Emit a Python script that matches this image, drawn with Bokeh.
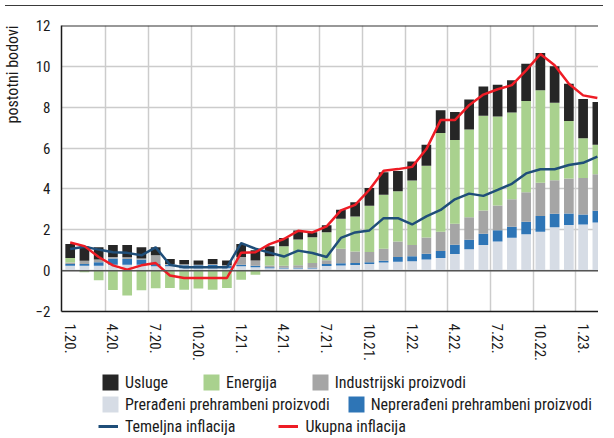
import numpy as np
from bokeh.plotting import figure
from bokeh.models import (ColumnDataSource, FixedTicker, Span, Legend, LegendItem,
                          Title, Div)
from bokeh.layouts import column
from bokeh.embed import file_html
from bokeh.resources import INLINE

# ---------------- data (Jan 2020 .. Feb 2023) ----------------
tick_labels = ["1.20.", "4.20.", "7.20.", "10.20.", "1.21.", "4.21.", "7.21.",
               "10.21.", "1.22.", "4.22.", "7.22.", "10.22.", "1.23."]

preradeni = [0.24, 0.24, 0.24, 0.29, 0.29, 0.29, 0.21, 0.21, 0.12, 0.12, 0.12, 0.12,
             0.21, 0.16, 0.12, 0.10, 0.10, 0.10, 0.23, 0.25, 0.28, 0.32, 0.40, 0.44,
             0.46, 0.54, 0.62, 0.81, 1.05, 1.25, 1.43, 1.61, 1.78, 1.90, 2.12, 2.23,
             2.26, 2.36]
nepreradeni = [0.09, 0.09, 0.17, 0.30, 0.28, 0.25, 0.12, 0.08, 0.15, 0.14, 0.16, 0.12,
               0.08, 0.08, 0.05, 0.04, 0.04, 0.04, 0.09, 0.11, 0.09, 0.09, 0.09, 0.23,
               0.24, 0.29, 0.34, 0.46, 0.46, 0.55, 0.55, 0.54, 0.61, 0.77, 0.66, 0.57,
               0.49, 0.57]
industrijski = [0.07, 0.16, 0.13, 0.08, 0.08, 0.05, 0.42, 0.04, 0.04, 0.03, 0.05, 0.02,
                0.38, 0.26, 0.08, 0.10, 0.12, 0.23, 0.19, 0.71, 0.57, 0.50, 0.58, 0.76,
                0.55, 0.79, 0.94, 1.03, 1.10, 1.15, 1.21, 1.35, 1.45, 1.63, 1.65, 1.71,
                1.78, 1.79]
energija = [0.22, -0.08, -0.47, -0.95, -1.22, -0.96, -0.86, -0.85, -0.93, -0.88, -0.93,
            -0.85, -0.44, -0.20, 0.45, 0.95, 1.27, 1.26, 1.37, 1.47, 1.71, 2.27, 2.64,
            2.46, 3.16, 3.51, 4.84, 4.10, 4.30, 4.63, 4.36, 4.24, 4.47, 4.53, 3.79,
            2.82, 1.95, 1.44]
usluge = [0.68, 0.69, 0.60, 0.58, 0.60, 0.55, 0.39, 0.24, 0.21, 0.21, 0.24, 0.24,
          0.63, 0.50, 0.50, 0.41, 0.44, 0.25, 0.34, 0.44, 0.70, 0.86, 1.11, 0.99,
          0.93, 1.03, 1.11, 1.36, 1.47, 1.43, 1.55, 1.58, 1.82, 1.82, 1.78, 1.82,
          1.92, 2.10]
ukupna = [1.38, 1.20, 0.67, 0.26, 0.05, 0.26, 0.37, -0.24, -0.36, -0.36, -0.36, -0.36,
          0.88, 0.90, 1.30, 1.55, 1.95, 1.87, 2.17, 2.95, 3.22, 3.96, 4.89, 4.97,
          5.08, 5.95, 7.37, 7.37, 8.10, 8.62, 8.88, 9.08, 9.80, 10.60, 10.05, 9.15,
          8.58, 8.45]
temeljna = [1.06, 1.17, 1.03, 0.90, 0.87, 0.75, 1.14, 0.29, 0.16, 0.16, 0.16, 0.16,
            1.35, 1.07, 0.88, 0.69, 0.98, 0.86, 0.67, 1.60, 1.87, 1.97, 2.57, 2.57,
            2.26, 2.66, 2.97, 3.49, 3.77, 3.66, 3.95, 4.25, 4.76, 4.96, 4.96, 5.17,
            5.28, 5.58]

n = len(usluge)
x = np.arange(n)
tick_idx = list(range(0, n, 3))[:len(tick_labels)]

FONT = "Liberation Sans Narrow, Arial Narrow, Roboto Condensed, Liberation Sans, sans-serif"
TXT = "#1a1a1a"
W = 598

p = figure(width=W, height=359, output_backend="svg", toolbar_location=None,
           x_range=(-0.61, 37.08), y_range=(-2, 12),
           min_border_left=60, min_border_right=0, min_border_top=14,
           min_border_bottom=59, outline_line_color=None,
           background_fill_color="white", border_fill_color="white")

series = [
    ("Prerađeni prehrambeni proizvodi", preradeni, "#d6dce5"),
    ("Neprerađeni prehrambeni proizvodi", nepreradeni, "#2e75b6"),
    ("Industrijski proizvodi", industrijski, "#a5a5a5"),
    ("Energija", energija, "#a9d18e"),
    ("Usluge", usluge, "#262626"),
]

p.xgrid.ticker = FixedTicker(ticks=[t - 0.5 for t in tick_idx[1:]])
p.ygrid.ticker = FixedTicker(ticks=list(range(-2, 13, 2)))
p.xgrid.grid_line_color = "#cccccc"
p.ygrid.grid_line_color = "#cccccc"
p.xgrid.grid_line_width = 1.5
p.ygrid.grid_line_width = 1.5

pos = np.zeros(n)
neg = np.zeros(n)
for name, vals, color in series:
    v = np.array(vals, dtype=float)
    bottom = np.where(v >= 0, pos, neg)
    top = bottom + v
    pos = np.where(v >= 0, top, pos)
    neg = np.where(v < 0, top, neg)
    src = ColumnDataSource(dict(x=x, bottom=bottom, top=top))
    p.vbar(x="x", bottom="bottom", top="top", width=0.68,
           source=src, fill_color=color, line_color=None)

p.add_layout(Span(location=0, dimension="width", line_color="#555555", line_width=1.5))
p.add_layout(Span(location=12, dimension="width", line_color="#333333", line_width=2))

p.line(x, temeljna, line_color="#1f4e79", line_width=2.5)
p.line(x, ukupna, line_color="#ee1c25", line_width=2.5)

# axes
p.xaxis.ticker = FixedTicker(ticks=tick_idx)
p.xaxis.major_label_overrides = {i: lab for i, lab in zip(tick_idx, tick_labels)}
p.xaxis.major_label_orientation = "vertical"
p.yaxis.ticker = FixedTicker(ticks=list(range(-2, 13, 2)))
p.yaxis.major_label_overrides = {-2: "\u22122"}
for ax in (p.xaxis, p.yaxis):
    ax.axis_line_color = "#1a1a1a"
    ax.axis_line_width = 1.5
    ax.major_tick_line_color = None
    ax.minor_tick_line_color = None
    ax.major_tick_out = 0
    ax.major_tick_in = 0
    ax.major_label_text_font = FONT
    ax.major_label_text_font_size = "15px"
    ax.major_label_text_color = TXT
p.xaxis.major_label_standoff = 12
p.yaxis.major_label_standoff = 11
# invisible spacer label to push the unit title further left
p.yaxis.axis_label = " "
p.yaxis.axis_label_text_font_size = "2px"
p.yaxis.axis_label_standoff = 6

p.add_layout(Title(text="postotni bodovi", align="right", text_font=FONT,
                   text_font_size="16px", text_font_style="normal",
                   text_color=TXT, standoff=0), "left")

# ---------------- legend panel ----------------
LH = 70
lg = figure(width=W, height=LH, output_backend="svg", toolbar_location=None,
            x_range=(0, 1), y_range=(0, 1), min_border=0,
            min_border_left=0, min_border_right=0, min_border_top=0,
            min_border_bottom=0,
            x_axis_location=None, y_axis_location=None,
            outline_line_color=None, background_fill_color="white",
            border_fill_color="white")
lg.xgrid.visible = False
lg.ygrid.visible = False

# legend proxies placed outside the visible range of the legend panel
proxy_x = [-5.0]
proxy_y = [0.0]
swatch = {}
for name, _, color in series:
    swatch[name] = lg.vbar(x=proxy_x, top=proxy_y, width=0.1, fill_color=color,
                           line_color=None)
sw_tem = lg.line(x=proxy_x * 2, y=proxy_y * 2, line_color="#1f4e79", line_width=3)
sw_uk = lg.line(x=proxy_x * 2, y=proxy_y * 2, line_color="#ee1c25", line_width=3)


def make_legend(items, loc, spacing, standoff):
    leg = Legend(items=[LegendItem(label=lab, renderers=[r]) for lab, r in items],
                 location=loc, orientation="horizontal", glyph_width=20,
                 glyph_height=20, label_standoff=standoff, spacing=spacing,
                 padding=0, margin=0, border_line_color=None,
                 background_fill_alpha=0, label_text_font=FONT,
                 label_text_font_size="16px", label_text_color=TXT,
                 label_height=20, label_text_baseline="middle")
    lg.add_layout(leg)


# rows: centres at 12, 34, 56 px from the top of the legend panel
make_legend([("Usluge", swatch["Usluge"]),
             ("Energija", swatch["Energija"]),
             ("Industrijski proizvodi", swatch["Industrijski proizvodi"])],
            (39, LH - 12 - 10), 33, 5)
make_legend([("Prerađeni prehrambeni proizvodi", swatch["Prerađeni prehrambeni proizvodi"]),
             ("Neprerađeni prehrambeni proizvodi", swatch["Neprerađeni prehrambeni proizvodi"])],
            (39, LH - 34 - 10), 16, 5)
make_legend([("Temeljna inflacija", sw_tem), ("Ukupna inflacija", sw_uk)],
            (37, LH - 56 - 10), 43, 7)

rule = Div(width=W, height=1, styles={"background-color": "#3a3a3a"})
layout = column(rule, p, lg, margin=(0, 0, -8, 0))

open("out.html", "w").write(file_html(layout, INLINE))
